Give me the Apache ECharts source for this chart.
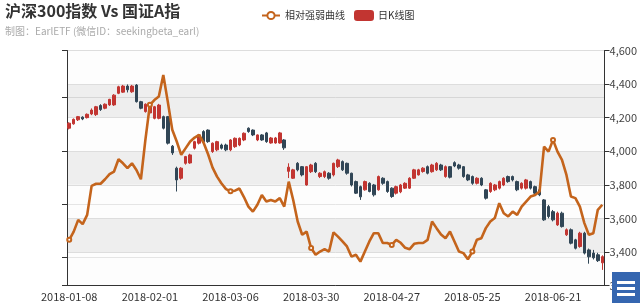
<!DOCTYPE html>
<html>
<head>
<meta charset="utf-8">
<script src="https://cdn.jsdelivr.net/npm/echarts@6/dist/echarts.min.js"></script>
<style>html,body{margin:0;padding:0;background:#fff}#c{width:640px;height:305px}</style>
</head>
<body>
<div id="c"></div>
<script>
const dates = [
'2018-01-08','2018-01-09','2018-01-10','2018-01-11','2018-01-12','2018-01-15','2018-01-16','2018-01-17','2018-01-18','2018-01-19',
'2018-01-22','2018-01-23','2018-01-24','2018-01-25','2018-01-26','2018-01-29','2018-01-30','2018-01-31',
'2018-02-01','2018-02-02','2018-02-05','2018-02-06','2018-02-07','2018-02-08','2018-02-09','2018-02-12','2018-02-13','2018-02-14',
'2018-02-22','2018-02-23','2018-02-26','2018-02-27','2018-02-28',
'2018-03-01','2018-03-02','2018-03-05','2018-03-06','2018-03-07','2018-03-08','2018-03-09','2018-03-12','2018-03-13','2018-03-14',
'2018-03-15','2018-03-16','2018-03-19','2018-03-20','2018-03-21','2018-03-22','2018-03-23','2018-03-26','2018-03-27','2018-03-28',
'2018-03-29','2018-03-30',
'2018-04-02','2018-04-03','2018-04-04','2018-04-09','2018-04-10','2018-04-11','2018-04-12','2018-04-13','2018-04-16','2018-04-17',
'2018-04-18','2018-04-19','2018-04-20','2018-04-23','2018-04-24','2018-04-25','2018-04-26','2018-04-27',
'2018-05-02','2018-05-03','2018-05-04','2018-05-07','2018-05-08','2018-05-09','2018-05-10','2018-05-11','2018-05-14','2018-05-15',
'2018-05-16','2018-05-17','2018-05-18','2018-05-21','2018-05-22','2018-05-23','2018-05-24','2018-05-25','2018-05-28','2018-05-29',
'2018-05-30','2018-05-31',
'2018-06-01','2018-06-04','2018-06-05','2018-06-06','2018-06-07','2018-06-08','2018-06-11','2018-06-12','2018-06-13','2018-06-14',
'2018-06-15','2018-06-19','2018-06-20','2018-06-21','2018-06-22','2018-06-25','2018-06-26','2018-06-27','2018-06-28','2018-06-29',
'2018-07-02','2018-07-03','2018-07-04','2018-07-05','2018-07-06'
];

// [open, close, low, high]
const kline = [
[4137,4167,4130,4172],[4163,4190,4158,4195],[4187,4206,4180,4210],[4203,4192,4185,4208],[4200,4220,4195,4225],
[4222,4245,4215,4255],[4218,4265,4210,4270],[4272,4248,4240,4280],[4256,4280,4250,4285],[4276,4309,4270,4312],
[4276,4334,4270,4340],[4345,4384,4340,4390],[4352,4388,4348,4395],[4388,4366,4350,4398],[4354,4388,4348,4395],
[4394,4295,4290,4400],[4295,4256,4250,4300],[4236,4280,4230,4285],[4228,4268,4222,4275],[4196,4265,4190,4270],
[4196,4275,4190,4282],[4206,4137,4130,4212],[4206,4048,4040,4210],[4030,3990,3978,4037],[3899,3829,3760,3908],
[3839,3899,3830,3905],[3928,3968,3920,3972],[3930,3978,3925,3985],[4018,4057,4010,4062],[4048,4097,4040,4102],
[4117,4057,4050,4125],[4126,4057,4050,4130],[3998,4048,3990,4052],[4008,4057,4000,4062],[4037,4018,4010,4045],
[4037,4008,4000,4045],[4008,4067,4000,4072],[4027,4077,4020,4082],[4037,4077,4030,4082],[4067,4107,4060,4112],
[4137,4117,4110,4142],[4126,4097,4090,4130],[4067,4097,4060,4100],[4097,4067,4062,4102],[4109,4057,4050,4115],
[4049,4079,4045,4085],[4049,4079,4045,4085],[4049,4109,4045,4115],[4067,4020,4008,4072],[3880,3905,3840,3928],
[3839,3889,3835,3895],[3928,3889,3880,3935],[3908,3859,3850,3912],[3799,3908,3795,3912],[3878,3918,3870,3925],
[3928,3878,3870,3935],[3849,3869,3840,3875],[3849,3878,3840,3885],[3869,3839,3830,3875],[3859,3928,3850,3932],
[3908,3948,3900,3955],[3938,3889,3882,3945],[3928,3869,3860,3932],[3869,3799,3790,3872],[3819,3750,3745,3825],
[3789,3728,3710,3795],[3770,3819,3765,3825],[3809,3760,3755,3815],[3799,3740,3730,3805],[3770,3849,3765,3855],
[3839,3809,3800,3845],[3819,3760,3752,3825],[3780,3730,3722,3785],[3750,3789,3742,3795],[3758,3799,3750,3805],
[3780,3809,3775,3815],[3780,3839,3775,3845],[3839,3889,3835,3895],[3859,3889,3855,3895],[3879,3899,3872,3905],
[3908,3869,3862,3915],[3878,3918,3872,3925],[3889,3928,3882,3935],[3918,3889,3882,3925],[3849,3908,3842,3915],
[3908,3845,3838,3912],[3932,3912,3905,3940],[3918,3899,3890,3925],[3908,3849,3842,3912],[3859,3829,3822,3865],
[3849,3809,3800,3855],[3809,3839,3802,3845],[3839,3799,3792,3845],[3770,3720,3712,3775],[3760,3809,3752,3815],
[3770,3799,3762,3805],[3780,3819,3772,3825],[3799,3839,3792,3845],[3849,3819,3812,3855],[3849,3829,3820,3855],
[3819,3770,3762,3825],[3780,3809,3772,3815],[3780,3829,3772,3835],[3819,3780,3772,3825],[3789,3750,3742,3795],
[3770,3740,3732,3775],[3710,3591,3585,3715],[3670,3611,3600,3680],[3640,3591,3582,3650],[3561,3631,3555,3640],
[3631,3551,3545,3640],[3502,3532,3495,3540],[3532,3452,3445,3540],[3472,3422,3415,3478],[3432,3512,3425,3520],
[3512,3393,3385,3520],[3412,3371,3330,3420],[3393,3365,3355,3412],[3383,3348,3340,3395],[3335,3372,3293,3380]
];

const strength = [
1.0265,1.0296,1.0340,1.0324,1.0359,1.0468,1.0476,1.0476,1.0493,1.0512,
1.0522,1.0568,1.0553,1.0535,1.0553,1.0528,1.0493,1.0641,1.0773,1.0791,
1.0804,1.0885,1.0785,1.0679,1.0635,1.0585,1.0610,1.0635,1.0650,1.0660,
1.0630,1.0587,1.0537,1.0503,1.0477,1.0456,1.0448,1.0450,1.0458,1.0426,
1.0390,1.0371,1.0397,1.0434,1.0409,1.0415,1.0409,1.0422,1.0390,1.0484,
1.0415,1.0334,1.0284,1.0296,1.0234,1.0209,1.0221,1.0230,1.0221,1.0293,
1.0277,1.0259,1.0240,1.0202,1.0209,1.0183,1.0221,1.0259,1.0290,1.0290,
1.0253,1.0253,1.0246,1.0265,1.0254,1.0235,1.0230,1.0250,1.0253,1.0253,
1.0265,1.0334,1.0309,1.0285,1.0271,1.0296,1.0259,1.0221,1.0215,1.0192,
1.0221,1.0265,1.0271,1.0309,1.0334,1.0347,1.0403,1.0365,1.0353,1.0371,
1.0359,1.0390,1.0409,1.0428,1.0434,1.0447,1.0616,1.0597,1.0641,1.0597,
1.0566,1.0509,1.0428,1.0422,1.0390,1.0328,1.0284,1.0290,1.0378,1.0397
];

const FONT = '"Noto Sans CJK SC", "Noto Sans", sans-serif';
const chart = echarts.init(document.getElementById('c'), null, {renderer: 'canvas'});
chart.setOption({
  animation: false,
  textStyle: {fontFamily: FONT},
  title: {
    text: '沪深300指数 Vs 国证A指',
    subtext: '制图：EarlETF (微信ID：seekingbeta_earl)',
    left: 0, top: -2, itemGap: 7,
    textStyle: {fontSize: 16, fontWeight: 'bold', color: '#333', fontFamily: FONT},
    subtextStyle: {fontSize: 10, color: '#aaa', fontFamily: FONT}
  },
  legend: {
    left: 256, top: 5, itemGap: 9, itemWidth: 18, itemHeight: 9,
    textStyle: {fontSize: 10, color: '#333', fontFamily: FONT},
    data: ['相对强弱曲线', '日K线图']
  },
  grid: {left: 67, right: 35, top: 50.5, bottom: 19.5},
  xAxis: {
    type: 'category', data: dates, boundaryGap: true,
    axisLine: {lineStyle: {color: '#333'}},
    axisTick: {interval: 17, lineStyle: {color: '#333'}},
    axisLabel: {interval: 17, fontSize: 11, color: '#333', margin: 6, fontFamily: FONT},
    splitLine: {show: false}
  },
  yAxis: [
    {
      type: 'value', position: 'left', min: 1.00932, max: 1.09774, splitNumber: 5,
      axisLine: {show: true, lineStyle: {color: '#333'}},
      axisTick: {show: true, lineStyle: {color: '#333'}},
      axisLabel: {show: false},
      splitLine: {show: true, lineStyle: {color: '#ddd'}},
      splitArea: {show: false}
    },
    {
      type: 'value', position: 'right', min: 3200, max: 4600, interval: 200,
      axisLine: {show: true, lineStyle: {color: '#333'}},
      axisTick: {show: true, lineStyle: {color: '#333'}},
      axisLabel: {fontSize: 11, color: '#444', margin: 5, fontFamily: FONT},
      splitLine: {show: true, lineStyle: {color: '#ddd'}},
      splitArea: {show: true, areaStyle: {color: ['rgba(250,250,250,0.3)', 'rgba(200,200,200,0.3)']}}
    }
  ],
  series: [
    {
      name: '相对强弱曲线', type: 'line', yAxisIndex: 0, data: strength,
      symbol: 'emptyCircle', symbolSize: 4, showAllSymbol: 'auto',
      lineStyle: {width: 2.6, color: '#c4641c'},
      itemStyle: {color: '#c4641c'},
      z: 3
    },
    {
      name: '日K线图', type: 'candlestick', yAxisIndex: 1, data: kline, barWidth: 3,
      itemStyle: {color: '#c23531', color0: '#314656', borderColor: '#c23531', borderColor0: '#314656', borderWidth: 1},
      z: 2
    }
  ],
  graphic: [
    {type: 'rect', right: 0, bottom: 2, shape: {width: 28, height: 31}, style: {fill: '#3566b0'}, z: 100},
    {type: 'rect', right: 5, bottom: 21, shape: {width: 18, height: 3}, style: {fill: '#fff'}, z: 101},
    {type: 'rect', right: 5, bottom: 15, shape: {width: 18, height: 3}, style: {fill: '#fff'}, z: 101},
    {type: 'rect', right: 5, bottom: 9, shape: {width: 18, height: 3}, style: {fill: '#fff'}, z: 101}
  ]
});
</script>
</body>
</html>
